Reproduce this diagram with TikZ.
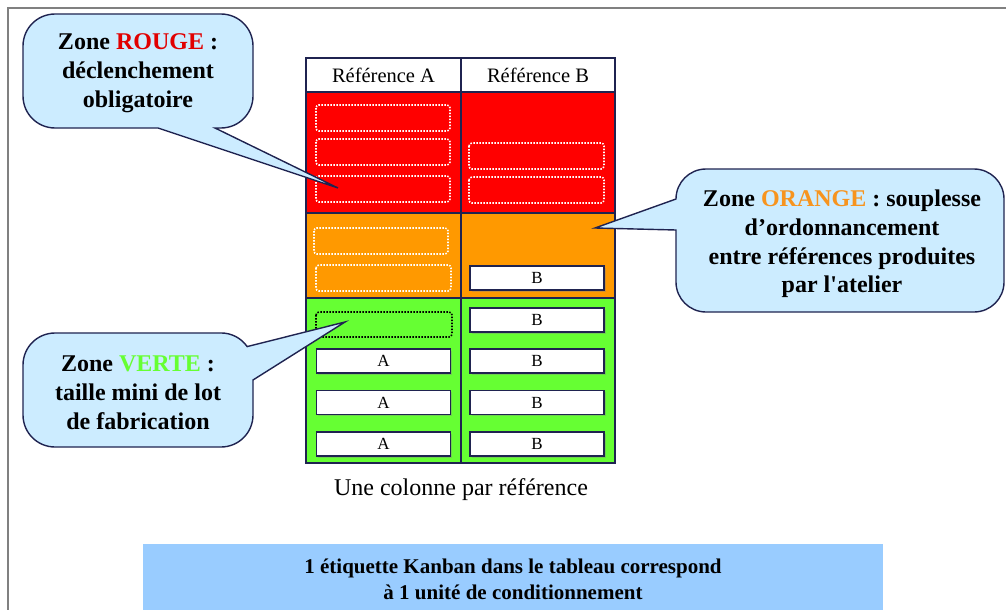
\documentclass[tikz,border=0pt]{standalone}
\usepackage{fontspec}
\setmainfont{Liberation Serif}
\usepackage{tikz}
\usetikzlibrary{shadows}
\newcommand{\rb}{32}
\newcommand{\taille}[1]{\fontsize{#1}{\dimexpr #1*12/10}\selectfont}
\definecolor{rougezone}{RGB}{255,0,0}
\definecolor{orangezone}{RGB}{255,153,0}
\definecolor{vertzone}{RGB}{102,255,51}
\definecolor{bleubulle}{RGB}{204,236,255}
\definecolor{bleucadre}{RGB}{153,204,255}
\definecolor{traitbleu}{RGB}{31,35,80}
\definecolor{rougetexte}{RGB}{225,0,0}
\definecolor{orangetexte}{RGB}{247,148,30}
\definecolor{verttexte}{RGB}{102,255,51}
\tikzstyle{trait}=[draw=traitbleu,line width=1.5pt]
\tikzstyle{bulle}=[fill=bleubulle,draw=traitbleu,line width=1.4pt]
\tikzstyle{texte}=[align=center,font=\bfseries\taille{24pt}]
\tikzstyle{vide}=[dash pattern=on 1.5pt off 1.5pt,line width=1.6pt,rounded corners=3pt]
\tikzstyle{carte}=[draw=traitbleu,fill=white,line width=1.5pt,minimum width=134pt,minimum height=24pt,inner sep=0pt,font=\taille{17pt},drop shadow={opacity=0.35,shadow xshift=1.5pt,shadow yshift=-1.5pt}]

\begin{document}
\begin{tikzpicture}[x=1pt,y=-1pt]

\useasboundingbox (0,0) rectangle (1006,610);
\draw[gray,line width=2pt] (8,615) -- (8,8) -- (1010,8);

\fill[rougezone] (306,92) rectangle (615,213);
\fill[orangezone] (306,213) rectangle (615,298);
\fill[vertzone] (306,298) rectangle (615,463);
\draw[trait] (306,58) rectangle (615,463);
\foreach \y in {92,213,298}
\draw[trait] (306,\y) -- (615,\y);
\draw[trait] (461,58) -- (461,463);

\node[font=\taille{20.5pt}] (refA) at (383.5,75) {Référence A};
\node[font=\taille{20.5pt}] (refB) at (538,75) {Référence B};

\foreach \y in {105,139,176}
\draw[vide,white] (316,\y) rectangle +(134,26);
\foreach \y in {143,177}
\draw[vide,white] (469,\y) rectangle +(135,26);
\draw[vide,white] (314,228) rectangle +(134,26);
\draw[vide,white] (316,265) rectangle +(135,26);
\draw[vide,black] (316,312) rectangle +(136,25);

\node[carte] (b0) at (537,278) {B};
\foreach \y [count=\i] in {361,402.5,444}
\node[carte] (a\i) at (383.5,\y) {A};
\foreach \y [count=\i] in {320,361,402.5,444}
\node[carte] (b\i) at (537,\y) {B};

\node[font=\taille{24pt}] (colonne) at (461,490) {Une colonne par référence};

\draw[bulle] (158,128) -- (338,188) -- (215,128) -- (221,128) arc[start angle=90,end angle=0,radius=\rb]
  -- (253,46) arc[start angle=0,end angle=-90,radius=\rb] -- (55,14) arc[start angle=-90,end angle=-180,radius=\rb]
  -- (23,96) arc[start angle=180,end angle=90,radius=\rb] -- cycle;
\node[texte] (rouge) at (138,73) {Zone \textcolor{rougetexte}{ROUGE} :\\déclenchement\\obligatoire};

\draw[bulle] (676,230) -- (595,228) -- (676,199) arc[start angle=180,end angle=270,radius=30]
  -- (974,169) arc[start angle=270,end angle=360,radius=30] -- (1004,282) arc[start angle=0,end angle=90,radius=30]
  -- (706,312) arc[start angle=90,end angle=180,radius=30] -- cycle;
\node[texte] (orange) at (842,244) {Zone \textcolor{orangetexte}{ORANGE} : souplesse\\d’ordonnancement\\entre références produites\\par l\textquotesingle atelier};

\draw[bulle] (253,380) -- (345,322) -- (247.2,346.6) arc[start angle=-35,end angle=-90,radius=\rb]
  -- (55,333) arc[start angle=-90,end angle=-180,radius=\rb] -- (23,415) arc[start angle=180,end angle=90,radius=\rb]
  -- (221,447) arc[start angle=90,end angle=0,radius=\rb] -- cycle;
\node[texte] (verte) at (138,393) {Zone \textcolor{verttexte}{VERTE} :\\taille mini de lot\\de fabrication};

\node[fill=bleucadre,minimum width=740pt,minimum height=70pt,align=center,font=\bfseries\fontsize{21pt}{26pt}\selectfont] (etiquette) at (513,579)
{1 étiquette Kanban dans le tableau correspond\\à 1 unité de conditionnement};

\end{tikzpicture}
\end{document}
